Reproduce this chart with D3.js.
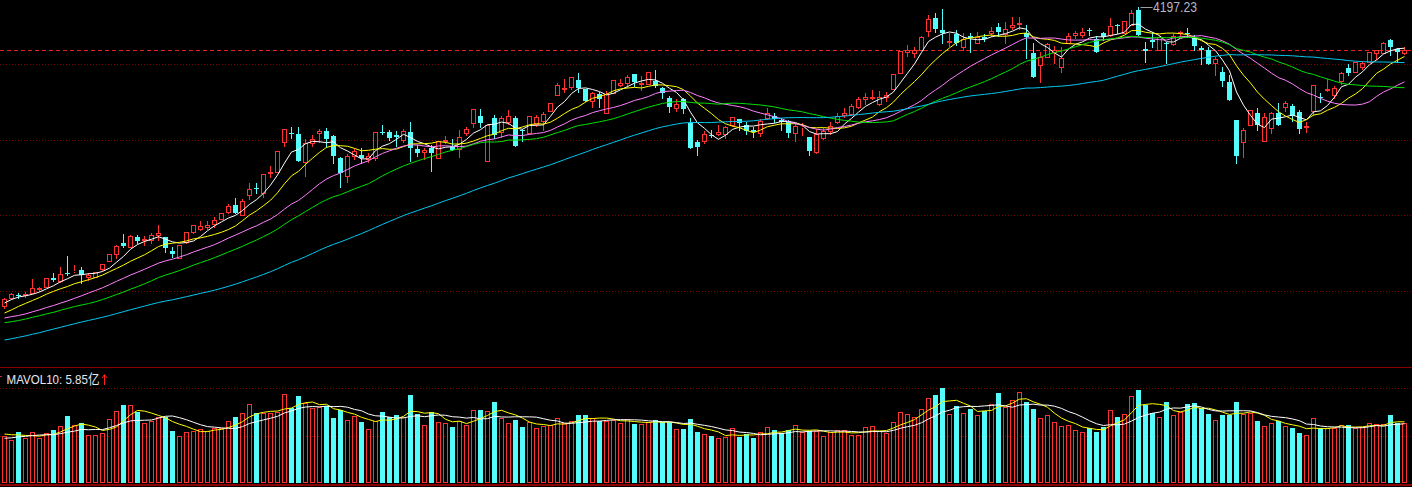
<!DOCTYPE html>
<html><head><meta charset="utf-8">
<script src="https://cdn.jsdelivr.net/npm/d3@7"></script>
<style>html,body{margin:0;padding:0;background:#000;overflow:hidden}svg{display:block}</style>
</head><body><svg id="c" width="1412" height="487"></svg>
<script>
// ---- data (index points) ----
const open = [3898,3906,3909,3909,3911.3,3914.7,3917.3,3926.3,3923.3,3931,3932.7,3934,3927.3,3927.3,3934.7,3943.3,3950,3960.7,3957.3,3967,3964,3964,3968.7,3966.7,3953.3,3945.7,3961.7,3971.7,3975.3,3977.3,3980,3984.7,3992.3,3999,3989,4009,4016.3,4011.3,4031.3,4032.3,4062.3,4071.3,4070,4042.3,4060.7,4071.3,4073.3,4068,4046.3,4028.3,4048,4049,4044.7,4045.7,4072.3,4072.3,4069,4064,4072.3,4055,4052,4055.7,4045.7,4063,4058,4054.7,4070.7,4081.3,4088,4043.3,4085.7,4072.3,4082.3,4085.7,4074,4070.7,4080,4083.3,4093.3,4109,4115,4117.3,4124,4114.7,4103.3,4110,4091.3,4111.3,4119,4121.3,4130,4119.7,4119.7,4123.3,4115.7,4106.3,4095.7,4104.7,4080.7,4062.3,4063.3,4069,4070,4070,4079,4084.7,4079,4074,4071.3,4085.7,4088,4084,4083.3,4070.7,4076.7,4066.7,4052.3,4065.7,4073.3,4082.3,4089,4090,4096.7,4105,4105.7,4100,4107.3,4114.7,4131.3,4152.3,4151.3,4154,4173.3,4185.7,4174,4162.3,4170,4156.7,4168,4161.3,4166.7,4170.7,4177.3,4170,4177.3,4180,4171.3,4151.3,4139,4146.7,4152.3,4136.7,4161.3,4169,4169,4174,4164.7,4170.7,4169,4179.3,4170.7,4179,4194,4154.7,4164,4154,4160.7,4159.7,4170.7,4171.3,4165.7,4155.7,4154,4141.3,4132.3,4122.3,4084,4062.3,4079,4090.7,4063.3,4076.3,4090.7,4097.3,4098,4091.7,4076.7,4093.3,4107.3,4114,4109,4123.3,4136.3,4132.3,4137.3,4142.3,4150.7,4151.3,4164,4154.7,4150.7];
const high = [3905.7,3911,3911.3,3912,3924.7,3917.3,3926,3930.7,3937.3,3948,3939,3937.3,3931.3,3932.3,3940,3950.3,3958.7,3970,3968.7,3969,3968,3970.7,3979,3967.3,3957.3,3959,3972,3979,3983,3983,3986.7,3991.5,4000,4006,4004.7,4021.3,4021.3,4030,4038,4053,4074.7,4076.7,4076.7,4065.3,4069,4074.7,4075.7,4069,4047,4049.7,4055.7,4055.7,4050.7,4071.7,4079,4074,4073,4075,4082.3,4059,4055.7,4059,4063.3,4068,4064.7,4074,4077.3,4094.7,4094.7,4079,4089,4088,4094,4088,4074.7,4088,4089,4092.3,4101,4120.7,4124.7,4127.3,4130.7,4114.7,4112.3,4112.3,4113.3,4124,4124.7,4129,4130,4128,4131.7,4134,4117.3,4108,4104.7,4105.7,4085.7,4064,4073.3,4074,4079,4078,4087.3,4084.7,4082.3,4077.3,4084.7,4095.7,4090.7,4085.7,4084,4080.7,4080.7,4067.3,4074.7,4075.7,4082.3,4090.7,4095.7,4100,4106.7,4110.7,4114,4113.3,4112.3,4130,4153.3,4159,4157.3,4168,4189,4190.7,4194.7,4170.7,4174,4170.7,4170.7,4172.3,4170,4176.7,4180.7,4182.3,4187.3,4187.3,4179,4160.7,4152.3,4161.3,4158,4156.7,4171.3,4173.3,4175.7,4175.7,4168,4172.3,4185.7,4180,4183.3,4194,4197.23,4162.3,4172.3,4168,4162.3,4170.7,4173.3,4175.7,4169,4158,4157.3,4147.3,4137.3,4129,4084,4075.7,4094,4095.7,4090.7,4092.3,4100.7,4103.3,4100,4094,4082.3,4119,4111.3,4124.7,4118,4132.3,4140,4141.7,4143.3,4152,4154,4161.5,4164.7,4155.7,4156.7];
const low = [3895.7,3905.5,3906.3,3907,3911,3913.3,3917,3923,3922.3,3929,3932,3921.3,3924,3927,3934,3943,3945.7,3957.3,3957,3960.7,3958.7,3960.7,3964,3951.7,3946.7,3945.7,3961.5,3971.5,3974,3974.7,3977.3,3984.5,3991.3,3990.7,3988.5,4005,4011.3,4006.7,4027.3,4032.3,4058,4065.7,4043,4028,4058,4062.3,4056.7,4041.3,4017.3,4022.3,4044.7,4041.3,4042.3,4044,4069.7,4064,4058,4062.3,4043,4048,4045,4033.3,4045.7,4060.7,4054,4047.3,4069,4076.7,4076.7,4043.3,4065.7,4066.7,4080,4058,4063.3,4070.7,4078,4074,4093,4109,4112.3,4114.7,4112.3,4103.3,4096.7,4097.3,4091.3,4111.3,4118,4117.3,4118,4114,4119.7,4117.3,4105.7,4092.3,4093.3,4090.7,4056,4049,4060.7,4067.3,4069,4065.7,4078,4074,4070,4066.7,4068,4084.7,4082.3,4074,4067.3,4063.3,4069,4049,4050.7,4064.7,4070,4081.3,4086.7,4089,4095.7,4100,4104.7,4099,4103.3,4114.7,4131.3,4148,4147.3,4154,4168,4172.3,4161.3,4158,4159,4154,4152.3,4160.7,4163.3,4168,4168,4160.7,4174.7,4174.7,4145.7,4127,4122.3,4146.7,4140.7,4132.3,4160.7,4165.7,4167.3,4169,4152.3,4164,4168,4170.7,4170.7,4179,4169,4142.3,4156.7,4154,4141.3,4159,4168,4166.7,4154,4140,4140,4129,4118,4104,4041.3,4046.7,4079,4074,4063.3,4071.3,4079,4093.3,4083.3,4071.3,4072.3,4089,4102.3,4113.3,4106.3,4120,4129,4132.3,4134.7,4142,4144.7,4151,4149,4142.3,4149.7];
const close = [3904.7,3909.7,3908.5,3910,3915.7,3916,3925.7,3924,3930,3930.5,3933.3,3928.7,3928.7,3932.3,3939.7,3950,3958,3958,3968,3963.3,3965.3,3969,3970.7,3955.7,3950,3959,3971.7,3978.7,3978,3978.7,3984,3991.3,3998,3991.3,4002.7,4014.7,4015,4029.7,4032.3,4053,4074.7,4070,4043,4060.7,4064.7,4073,4065,4048,4030.7,4048,4053.3,4045.7,4048,4071.7,4070.7,4065.7,4067.3,4073,4055.7,4051.3,4054,4051.3,4063.3,4064,4054,4066.7,4075,4094.7,4081.3,4079,4069,4085.7,4088,4058,4073,4088,4086.7,4090,4100.7,4119,4115.7,4126.7,4115.7,4103.3,4111.3,4105,4110,4124,4120.7,4127.3,4122.3,4121,4131.7,4118,4110.7,4097.3,4100,4094.7,4056.3,4057.3,4070,4068,4071.7,4076.7,4086.7,4081.3,4073.3,4071.7,4083.3,4090.7,4084.7,4082.3,4071.3,4078,4077.3,4053.3,4069.7,4073.3,4078,4088,4090.7,4098,4104.7,4106.7,4107.3,4107.3,4109,4130,4153.3,4154,4154,4166.7,4184.7,4174.7,4170.7,4163.3,4160.7,4164.7,4166,4166.7,4165,4173.3,4172.3,4174.7,4179,4181.3,4166.7,4127.3,4147.3,4160,4154,4145.7,4168,4170.7,4172.3,4173,4152.3,4167.3,4178,4178.3,4183.3,4190.7,4169,4153.3,4162.3,4166.7,4159.7,4168,4172,4170,4158,4154,4140,4144.7,4123,4104,4048.3,4074,4094,4079,4086.7,4090.7,4079,4100.7,4088,4074.7,4078,4119,4106.3,4114.7,4115.7,4130.7,4131.3,4141.7,4141.3,4151.7,4154,4161.3,4157.3,4152.3,4154];
// volume, 亿手
const volume = [4.64,4.25,5.04,4.42,5.04,4.42,4.91,5.24,5.63,6.62,5.73,5.90,4.71,4.71,4.91,6.29,7.11,7.71,7.71,7.04,5.96,6.13,6.55,6.55,5.17,4.64,5.07,5.17,5.34,5.17,5.40,5.40,6.13,6.49,6.89,7.78,6.89,6.89,6.95,7.04,8.79,7.38,8.60,7.87,7.38,7.48,7.61,6.39,7.21,6.22,6.62,6.03,5.34,6.16,7.01,6.49,6.72,6.55,8.69,6.82,5.73,6.99,6.03,5.93,5.53,6.13,5.73,7.21,7.21,7.11,8.00,6.39,5.93,6.22,5.53,6.06,5.43,5.66,5.70,6.39,5.90,6.13,6.72,6.72,6.39,6.13,6.13,6.22,5.90,6.29,5.83,5.83,6.06,6.22,6.03,6.03,5.31,5.34,6.32,5.04,4.81,4.64,4.42,4.52,5.40,4.54,4.84,4.45,5.01,5.50,5.24,4.97,5.21,5.70,5.01,5.17,5.14,4.61,5.01,5.21,5.21,4.71,4.71,5.50,5.60,5.17,4.94,6.00,7.01,6.82,6.55,7.28,8.37,8.69,9.39,6.82,7.61,6.89,7.31,6.72,7.11,7.81,8.89,7.54,8.20,8.99,8.03,7.31,6.39,6.72,6.03,5.63,5.73,5.24,5.04,5.40,5.07,5.56,7.21,6.55,6.82,8.60,9.19,7.68,6.89,6.49,8.00,6.72,7.04,7.81,7.90,7.38,6.82,6.22,6.72,6.72,8.00,6.82,6.89,6.13,5.63,5.93,6.13,5.63,5.43,4.94,4.71,6.42,5.40,5.40,5.40,5.70,5.73,5.43,5.50,5.93,5.83,5.83,6.72,5.93,5.93];
// estimated closes / volumes before the visible window (only feed the moving averages)
const warmupCloses = [3832,3826,3820,3818,3821,3816,3819,3824,3822,3828,3826,3834,3838,3842,3846,3840,3844,3852,3856,3854,3859,3864,3870,3874,3868,3876,3882,3878,3886,3884,3879,3874,3866,3862,3868,3872,3876,3870,3874,3878,3882,3886,3878,3874,3876,3880,3884,3882,3886,3882,3878,3874,3880,3886,3887,3892,3896,3904,3908];
const warmupVolumes = [3.8,4.1,3.9,4.2,4.0,4.6,5.1,4.7,5.16];
const maPeriods = [5,10,20,30,60];
const maColors = ["#ffffff","#ffff00","#ff80ff","#00e000","#00c8f0"];
const volMaPeriods = [5,10];
const volMaColors = ["#ffff00","#ffffff"];
const gridLevels = [4139.7,4063.7,3988.7,3912.7];
const peakLabel = "4197.23";
const volUnit = "亿";

// ---- drawing ----
const UP = "#ff3232", DOWN = "#54fcfc", GRID = "#7a0000";
const svg = d3.select("#c");
svg.append("rect").attr("width",1412).attr("height",487).attr("fill","#000");
const n = close.length;
const x = d3.scaleLinear().domain([0, n-1]).range([4.5, 4.5 + 7*(n-1)]);
const y = d3.scaleLinear().domain([3838, 4204]).range([366, 0]);
const yv = d3.scaleLinear().domain([0, d3.max(volume)]).range([483, 388]);
const R = Math.round;

// grid lines
const g = svg.append("g").attr("shape-rendering","crispEdges");
g.selectAll(".gl").data(gridLevels).join("line")
  .attr("x1",0).attr("x2",1412).attr("y1",d=>R(y(d))+0.5).attr("y2",d=>R(y(d))+0.5)
  .attr("stroke",GRID).attr("stroke-dasharray","1,2");
// last price dashed line
const last = close[n-1];
g.append("line").attr("x1",0).attr("x2",1412).attr("y1",R(y(last))+0.5).attr("y2",R(y(last))+0.5)
  .attr("stroke","#e82020").attr("stroke-dasharray","4,3");
// panel separators
g.append("line").attr("x1",0).attr("x2",1412).attr("y1",367.5).attr("y2",367.5).attr("stroke","#8a0000");
[yv(d3.max(volume)), yv(d3.max(volume)/2)].forEach(v=>{
  g.append("line").attr("x1",0).attr("x2",1412).attr("y1",R(v)+0.5).attr("y2",R(v)+0.5)
   .attr("stroke",GRID).attr("stroke-dasharray","1,2");
});
g.append("rect").attr("x",0).attr("y",484).attr("width",1412).attr("height",2).attr("fill","#8a0000");

// candles
const data = d3.range(n).map(i=>({i,o:open[i],h:high[i],l:low[i],c:close[i],v:volume[i],up:close[i]>=open[i]}));
const cg = svg.append("g").attr("shape-rendering","crispEdges");
data.forEach(d=>{
  const cx = x(d.i);
  const top = R(y(Math.max(d.o,d.c))), bot = R(y(Math.min(d.o,d.c)));
  const hy = R(y(d.h)), ly = R(y(d.l));
  if (d.up) {
    if (hy < top) cg.append("line").attr("x1",cx).attr("x2",cx).attr("y1",hy).attr("y2",top).attr("stroke",UP);
    if (ly > bot) cg.append("line").attr("x1",cx).attr("x2",cx).attr("y1",bot+1).attr("y2",ly+1).attr("stroke",UP);
    cg.append("rect").attr("x",cx-2).attr("y",top+0.5).attr("width",4).attr("height",Math.max(bot-top,0))
      .attr("fill","none").attr("stroke",UP);
  } else {
    cg.append("line").attr("x1",cx).attr("x2",cx).attr("y1",hy).attr("y2",ly+1).attr("stroke",DOWN);
    cg.append("rect").attr("x",cx-2.5).attr("y",top).attr("width",5).attr("height",Math.max(bot-top,1)).attr("fill",DOWN);
  }
});

// moving averages
const allC = warmupCloses.concat(close), off = warmupCloses.length;
const mg = svg.append("g").attr("fill","none").attr("stroke-width",1);
maPeriods.forEach((p,k)=>{
  const ma = d3.range(n).map(i=>d3.mean(allC.slice(off+i-p+1, off+i+1)));
  mg.append("path").attr("d", d3.line().x((d,i)=>x(i)).y(d=>y(d))(ma)).attr("stroke", maColors[k]);
});

// volume bars
const vg = svg.append("g").attr("shape-rendering","crispEdges");
data.forEach(d=>{
  const cx = x(d.i), top = R(yv(d.v));
  if (d.up) vg.append("rect").attr("x",cx-2).attr("y",top+0.5).attr("width",4).attr("height",483-top-1)
      .attr("fill","none").attr("stroke",UP);
  else vg.append("rect").attr("x",cx-2.5).attr("y",top).attr("width",5).attr("height",483-top).attr("fill",DOWN);
});
const allV = warmupVolumes.concat(volume), offV = warmupVolumes.length;
let lastMavol10 = 0;
volMaPeriods.forEach((p,k)=>{
  const ma = d3.range(n).map(i=>d3.mean(allV.slice(offV+i-p+1, offV+i+1)));
  if (p===10) lastMavol10 = ma[n-1];
  svg.append("path").attr("d", d3.line().x((d,i)=>x(i)).y(d=>yv(d))(ma))
    .attr("fill","none").attr("stroke",volMaColors[k]).attr("stroke-width",1);
});

// texts
const font = "'Liberation Sans', Arial, 'Noto Sans CJK SC', sans-serif";
svg.append("line").attr("x1",0).attr("x2",2).attr("y1",376.5).attr("y2",376.5).attr("stroke","#c03030");
svg.append("text").attr("x",6.5).attr("y",384).attr("font-family",font).attr("font-size",13.5)
  .attr("textLength",93).attr("lengthAdjust","spacingAndGlyphs")
  .attr("fill","#e6e8f0").text(`MAVOL10: ${lastMavol10.toFixed(2)}${volUnit}`);
svg.append("path").attr("d","M104.5,385 V375 M102,378 L104.5,374.5 L107,378").attr("stroke","#ff2020").attr("fill","none");
// peak label
const pk = d3.maxIndex(high);
const px = x(pk), pyy = R(y(high[pk]))+0.5;
svg.append("line").attr("x1",px+2).attr("x2",px+14).attr("y1",pyy).attr("y2",pyy).attr("stroke","#a0a0a0");
svg.append("text").attr("x",px+14.5).attr("y",11.5).attr("font-family",font).attr("font-size",14)
  .attr("textLength",44).attr("lengthAdjust","spacingAndGlyphs")
  .attr("fill","#b4b4c4").text(peakLabel);
</script></body></html>
